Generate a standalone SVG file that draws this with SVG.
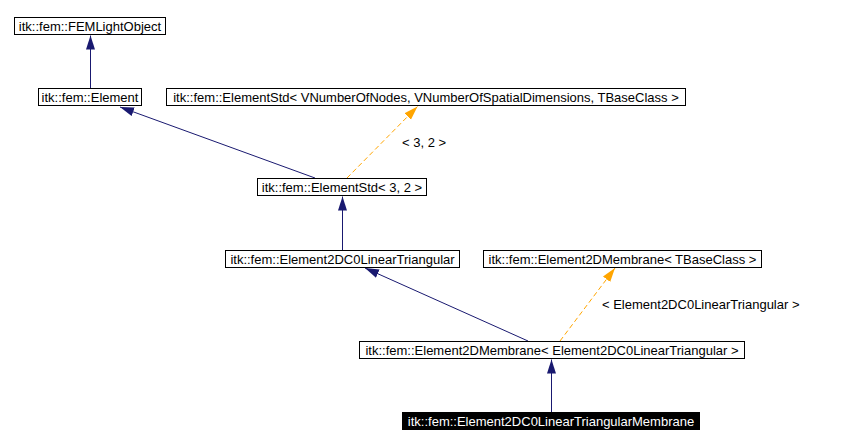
<svg xmlns="http://www.w3.org/2000/svg" width="846" height="446" viewBox="0 0 846 446">
<style>
.box{fill:#fff;stroke:#000;stroke-width:1}
.dark{fill:#000;stroke:#000;stroke-width:1}
text{font-family:"Liberation Sans",Arial,sans-serif;font-size:13px;fill:#000}
.lbl{text-anchor:middle}
.inv{fill:#fff}
.inh{fill:none;stroke:#191970;stroke-width:1}
.tpl{fill:none;stroke:#ffa500;stroke-width:1;stroke-dasharray:5,3}
</style>
<defs>
<marker id="an" markerUnits="userSpaceOnUse" markerWidth="14" markerHeight="10" refX="14" refY="4.5" orient="auto" viewBox="0 0 14 9">
<path d="M0,0 L14,4.5 L0,9 z" fill="#191970"/>
</marker>
<marker id="ao" markerUnits="userSpaceOnUse" markerWidth="14" markerHeight="10" refX="14" refY="4.5" orient="auto" viewBox="0 0 14 9">
<path d="M0,0 L14,4.5 L0,9 z" fill="#ffa500"/>
</marker>
</defs>
<g id="connectors">
<line class="inh" x1="90.5" y1="88" x2="90.5" y2="35.5" marker-end="url(#an)"/>
<line class="inh" x1="315" y1="178" x2="120" y2="107" marker-end="url(#an)"/>
<line class="tpl" x1="347" y1="178" x2="417.5" y2="106.5" marker-end="url(#ao)"/>
<line class="inh" x1="342.5" y1="250" x2="342.5" y2="196.5" marker-end="url(#an)"/>
<line class="inh" x1="528" y1="341" x2="365" y2="268" marker-end="url(#an)"/>
<line class="tpl" x1="560" y1="341" x2="615" y2="268" marker-end="url(#ao)"/>
<line class="inh" x1="551.5" y1="412" x2="551.5" y2="359.5" marker-end="url(#an)"/>
<text x="402" y="147">&lt; 3, 2 &gt;</text>
<text x="602" y="309">&lt; Element2DC0LinearTriangular &gt;</text>
</g>
<g id="n_femlightobject">
<rect class="box" x="14.5" y="17.5" width="151" height="17"/>
<text class="lbl" x="90" y="30.5">itk::fem::FEMLightObject</text>
</g>
<g id="n_element">
<rect class="box" x="38.5" y="88.5" width="103" height="17"/>
<text class="lbl" x="90" y="101.5">itk::fem::Element</text>
</g>
<g id="n_elementstd_t">
<rect class="box" x="166.5" y="88.5" width="519" height="17"/>
<text class="lbl" x="426" y="101.5">itk::fem::ElementStd&lt; VNumberOfNodes, VNumberOfSpatialDimensions, TBaseClass &gt;</text>
</g>
<g id="n_elementstd_32">
<rect class="box" x="257.5" y="178.5" width="169" height="17"/>
<text class="lbl" x="342" y="191.5">itk::fem::ElementStd&lt; 3, 2 &gt;</text>
</g>
<g id="n_e2dc0lt">
<rect class="box" x="225.5" y="250.5" width="234" height="17"/>
<text class="lbl" x="342.5" y="263.5">itk::fem::Element2DC0LinearTriangular</text>
</g>
<g id="n_e2dm_t">
<rect class="box" x="483.5" y="250.5" width="278" height="17"/>
<text class="lbl" x="622.5" y="263.5">itk::fem::Element2DMembrane&lt; TBaseClass &gt;</text>
</g>
<g id="n_e2dm_e2d">
<rect class="box" x="359.5" y="341.5" width="385" height="17"/>
<text class="lbl" x="552" y="354.5">itk::fem::Element2DMembrane&lt; Element2DC0LinearTriangular &gt;</text>
</g>
<g id="n_final">
<rect class="dark" x="402.5" y="412.5" width="297" height="17"/>
<text class="lbl inv" x="551" y="425.5">itk::fem::Element2DC0LinearTriangularMembrane</text>
</g>
</svg>
